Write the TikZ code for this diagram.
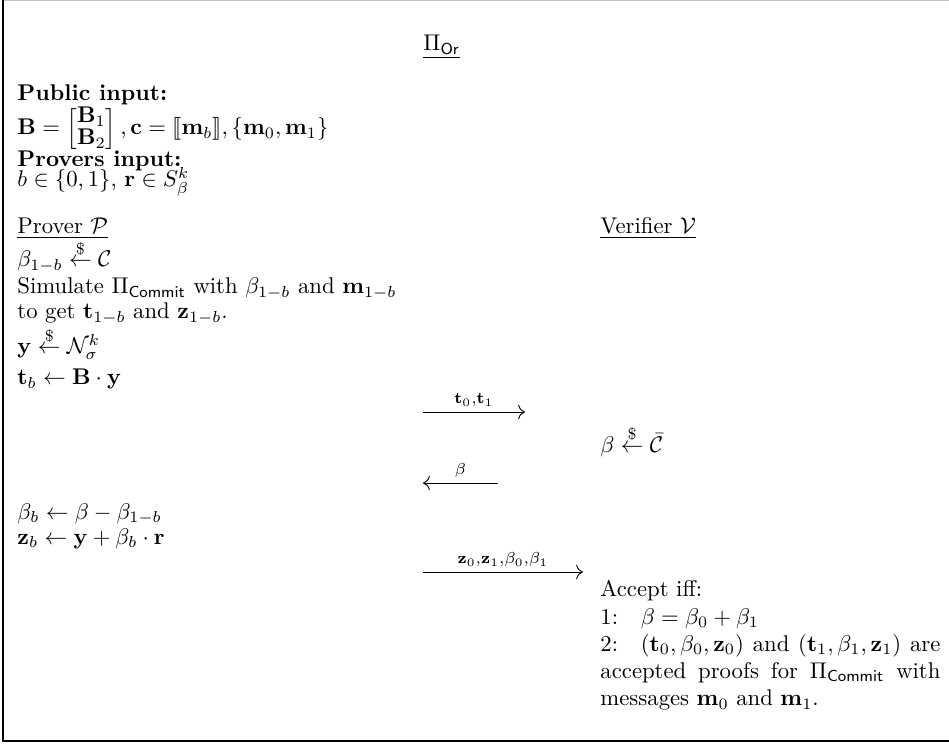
\documentclass[tikz,border=0pt]{standalone}
\usepackage{amsmath}
\usepackage{amssymb}
\usepackage{stmaryrd}
\usepackage{tikz}
\usetikzlibrary{arrows.meta,positioning}

\newcommand{\drawfrom}{\mathrel{\overset{\$}{\leftarrow}}}

\begin{document}
\begin{tikzpicture}[x=0.44pt, y=-0.44pt,
    line/.style={anchor=base west, inner sep=0pt},
    accept/.style={anchor=north west, inner sep=0pt, text width=149.6pt, align=justify},
    msg/.style={-{To[length=3pt]}, line width=0.4pt},
    lbl/.style={above=1pt, inner sep=1pt},
  ]
    \useasboundingbox (0,0) rectangle (949,747);
    \draw[black!25] (3,0.5) -- (949,0.5);
    \draw[line width=0.8pt] (3,0) -- (3,741) -- (949,741);

    % header and inputs
    \node[line] (title) at (423,51) {$\underline{\Pi_{\mathsf{Or}}}$};
    \node[line] (pub) at (17,101) {\textbf{Public input:}};
    \node[line] (pubval) at (17,135) {\renewcommand{\arraystretch}{0.78}$\mathbf{B}=\begin{bmatrix}\mathbf{B}_1\\\mathbf{B}_2\end{bmatrix},\mathbf{c}=\llbracket\mathbf{m}_b\rrbracket,\{\mathbf{m}_0,\mathbf{m}_1\}$};
    \node[line] (priv) at (17,167) {\textbf{Provers input:}};
    \node[line] (privval) at (17,187) {$b\in\{0,1\}$, $\mathbf{r}\in S_\beta^k$};

    % prover side
    \node[line] (prover) at (17,234) {\underline{Prover $\mathcal{P}$}};
    \node[line] (p1) at (17,267) {$\beta_{1-b}\drawfrom\mathcal{C}$};
    \node[line] (p2) at (17,294) {Simulate $\Pi_{\mathsf{Commit}}$ with $\beta_{1-b}$ and $\mathbf{m}_{1-b}$};
    \node[line] (p3) at (17,319) {to get $\mathbf{t}_{1-b}$ and $\mathbf{z}_{1-b}$.};
    \node[line] (p4) at (17,354) {$\mathbf{y}\drawfrom\mathcal{N}_\sigma^k$};
    \node[line] (p5) at (17,385) {$\mathbf{t}_b\leftarrow\mathbf{B}\cdot\mathbf{y}$};
    \node[line] (p6) at (17,519) {$\beta_b\leftarrow\beta-\beta_{1-b}$};
    \node[line] (p7) at (17,544) {$\mathbf{z}_b\leftarrow\mathbf{y}+\beta_b\cdot\mathbf{r}$};

    % verifier side
    \node[line] (verifier) at (600,234) {\underline{Verifier $\mathcal{V}$}};
    \node[line] (v1) at (600,452) {$\beta\drawfrom\bar{\mathcal{C}}$};
    \node[accept] (v2) at (600,580) {Accept iff:\\
      1:\quad$\beta=\beta_0+\beta_1$\\
      2:\quad$(\mathbf{t}_0,\beta_0,\mathbf{z}_0)$ and $(\mathbf{t}_1,\beta_1,\mathbf{z}_1)$ are accepted proofs for $\Pi_{\mathsf{Commit}}$ with messages $\mathbf{m}_0$ and $\mathbf{m}_1$.};

    % messages
    \coordinate (m1a) at (423,412); \coordinate (m1b) at (525,412);
    \coordinate (m2a) at (498,483); \coordinate (m2b) at (423,483);
    \coordinate (m3a) at (423,572); \coordinate (m3b) at (583,572);
    \draw[msg] (m1a) -- node[lbl] {$\scriptstyle\mathbf{t}_0,\mathbf{t}_1$} (m1b);
    \draw[msg] (m2a) -- node[lbl] {$\scriptstyle\beta$} (m2b);
    \draw[msg] (m3a) -- node[lbl] {$\scriptstyle\mathbf{z}_0,\mathbf{z}_1,\beta_0,\beta_1$} (m3b);
\end{tikzpicture}
\end{document}
